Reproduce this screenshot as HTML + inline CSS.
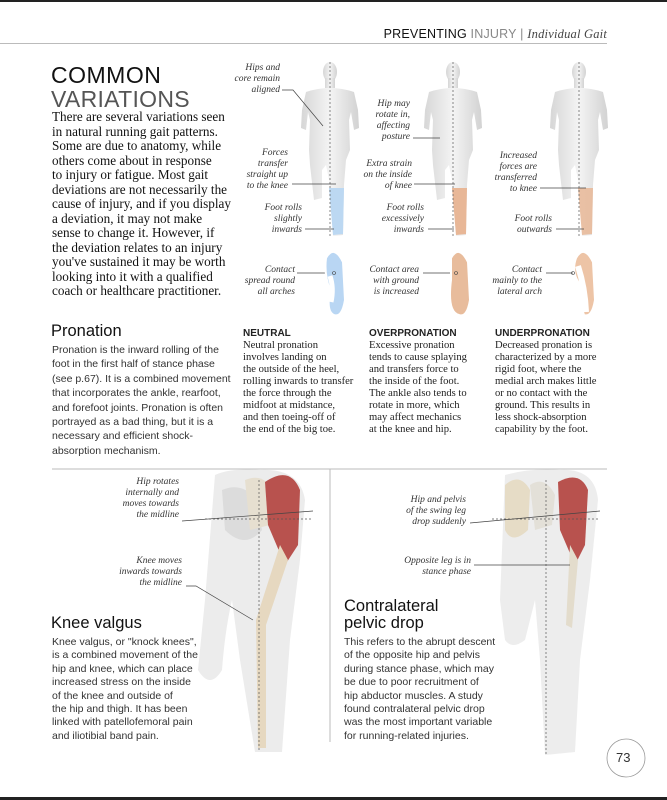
<!DOCTYPE html>
<html><head><meta charset="utf-8"><style>
*{margin:0;padding:0}
body{width:667px;height:800px;position:relative;background:#fff;overflow:hidden;font-family:"Liberation Sans",sans-serif;color:#222}
.a{position:absolute;white-space:nowrap}
.serif{font-family:"Liberation Serif",serif}
.lab{font-family:"Liberation Serif",serif;font-style:italic;font-size:9.5px;line-height:11px;text-align:right;color:#333}
.col{font-family:"Liberation Serif",serif;font-size:10.6px;line-height:12px;color:#222}
.col b{font-family:"Liberation Sans",sans-serif;font-size:10px;display:block}
.sb{font-size:10.5px;line-height:13.4px;color:#333}
</style></head><body>
<div class="a" style="left:0;top:0;width:667px;height:2px;background:#222"></div>
<div class="a" style="left:0;top:797px;width:667px;height:3px;background:#222"></div>
<div class="a" style="left:0;top:43px;width:607px;height:1px;background:#bbb"></div>
<div class="a" style="right:60px;top:27px;font-size:12.5px;letter-spacing:.2px;color:#111">PREVENTING <span style="color:#888">INJURY</span> <span style="color:#888">|</span> <span class="serif" style="font-style:italic;color:#444">Individual Gait</span></div>
<div class="a" style="left:51px;top:62px;font-size:23px;letter-spacing:.5px;color:#111">COMMON</div>
<div class="a" style="left:51px;top:86px;font-size:23px;font-weight:300;letter-spacing:.3px;color:#555">VARIATIONS</div>
<div class="a serif" style="left:52px;top:110px;font-size:13.2px;line-height:14.5px;color:#111">There are several variations seen<br>in natural running gait patterns.<br>Some are due to anatomy, while<br>others come about in response<br>to injury or fatigue. Most gait<br>deviations are not necessarily the<br>cause of injury, and if you display<br>a deviation, it may not make<br>sense to change it. However, if<br>the deviation relates to an injury<br>you've sustained it may be worth<br>looking into it with a qualified<br>coach or healthcare practitioner.</div>

<svg class="a" style="left:0;top:0" width="667" height="800">
<defs>
<linearGradient id="g" x1="0" x2="1"><stop offset="0" stop-color="#d6d6d6"/><stop offset=".5" stop-color="#f4f4f4"/><stop offset="1" stop-color="#d2d2d2"/></linearGradient>
<g id="body">
<ellipse cx="0" cy="72" rx="7" ry="10" fill="url(#g)"/>
<rect x="-5" y="78" width="10" height="10" fill="url(#g)"/>
<path d="M-24 92 Q0 84 24 92 L28 110 L29 128 L24 130 L21 112 L19 120 L20 150 L16 160 L14 185 L13 235 L3 236 L0 185 L-4 165 L-8 170 L-8 198 L-16 200 L-20 165 L-21 150 L-20 120 L-22 112 L-24 130 L-29 128 L-28 110 Z" fill="url(#g)"/>
</g>
</defs>
<use href="#body" x="330"/>
<use href="#body" x="453"/>
<use href="#body" x="579"/>
<path d="M329 188 L344 188 L343 234 L333 235 Z" fill="#bcd8f2"/>
<path d="M452 188 L467 188 L466 234 L456 235 Z" fill="#e8b797"/>
<path d="M578 188 L593 188 L592 234 L582 235 Z" fill="#e8b797" opacity=".85"/>
<g stroke="#555" stroke-width=".7" stroke-dasharray="2,2"><line x1="330" y1="62" x2="330" y2="236"/><line x1="453" y1="62" x2="453" y2="236"/><line x1="579" y1="62" x2="579" y2="236"/></g>
<g fill="none" stroke="#444" stroke-width=".7">
<polyline points="282,90 293,90 323,126"/><polyline points="292,184 336,184"/><polyline points="305,229 334,229"/><polyline points="297,273 334,273"/>
<polyline points="413,138 440,138"/><polyline points="414,184 455,184"/><polyline points="428,229 454,229"/><polyline points="423,273 456,273"/>
<polyline points="540,188 586,188"/><polyline points="556,229 584,229"/><polyline points="546,273 573,273"/>
</g>
<path d="M326 258 Q334 244 343 262 L345 300 Q342 318 334 315 Q326 312 330 290 Q324 275 326 258Z" fill="#b9d6f3" stroke="#fff" stroke-width="2"/>
<path d="M451 258 Q459 244 468 262 L470 300 Q467 318 459 315 Q447 312 451 280 Z" fill="#e8bc9c" stroke="#fff" stroke-width="2"/>
<path d="M576 258 Q584 244 593 262 L595 300 Q592 318 584 315 Q580 305 583 288 Q570 275 576 258Z" fill="#edc4a6" stroke="#fff" stroke-width="2"/>
<path d="M330 276 Q334 288 331 302" stroke="#fff" stroke-width="5" fill="none"/>
<path d="M578 266 Q585 288 586 312" stroke="#fff" stroke-width="6" fill="none"/>
<circle cx="334" cy="273" r="1.5" fill="none" stroke="#444" stroke-width=".6"/>
<circle cx="456" cy="273" r="1.5" fill="none" stroke="#444" stroke-width=".6"/>
<circle cx="573" cy="273" r="1.5" fill="none" stroke="#444" stroke-width=".6"/>
<line x1="52" y1="469" x2="607" y2="469" stroke="#bbb"/>
<line x1="330" y1="469" x2="330" y2="742" stroke="#bbb"/>
<path d="M215 475 Q230 468 260 470 Q300 468 305 500 L300 560 L290 640 L282 752 L255 752 L240 660 L232 600 Q225 630 222 670 Q210 690 198 670 L205 600 Z" fill="#ececec"/>
<path d="M222 490 Q240 482 255 497 L262 530 Q245 550 225 530 Z" fill="#dcdcdc"/>
<path d="M245 480 Q265 472 272 492 L270 525 L250 530 Z" fill="#e6dfd0"/>
<path d="M265 482 Q290 465 300 490 L298 545 L285 565 L268 525 Z" fill="#b8524e"/>
<path d="M280 545 L256 620 L258 748 L266 748 L266 625 L288 560 Z" fill="#e6d8c0"/>
<line x1="259" y1="480" x2="259" y2="752" stroke="#555" stroke-width=".7" stroke-dasharray="2,2"/>
<line x1="205" y1="519" x2="313" y2="519" stroke="#555" stroke-width=".7" stroke-dasharray="2,2"/>
<line x1="182" y1="521" x2="313" y2="511" stroke="#444" stroke-width=".7"/>
<polyline points="186,586 196,586 253,620" fill="none" stroke="#444" stroke-width=".7"/>
<path d="M505 475 Q530 468 560 470 Q595 468 598 500 L590 580 L580 660 L575 752 L545 755 L540 660 L535 600 L525 640 Q512 650 505 640 L500 600 Z" fill="#ededed"/>
<path d="M505 485 Q520 472 530 490 L528 530 Q512 545 505 530 Z" fill="#e6dcc6"/>
<path d="M530 485 Q545 475 555 495 L552 525 L535 530 Z" fill="#e3e0d8"/>
<path d="M558 482 Q580 470 588 490 L585 545 L575 565 L560 530 Z" fill="#b8524e"/>
<path d="M570 545 L566 625 L572 628 L578 560 Z" fill="#e3dccc"/>
<line x1="546" y1="480" x2="546" y2="755" stroke="#555" stroke-width=".7" stroke-dasharray="2,2"/>
<line x1="492" y1="519" x2="600" y2="519" stroke="#555" stroke-width=".7" stroke-dasharray="2,2"/>
<line x1="470" y1="523" x2="600" y2="511" stroke="#444" stroke-width=".7"/>
<polyline points="474,565 570,565" fill="none" stroke="#444" stroke-width=".7"/>
<circle cx="626" cy="758" r="19" fill="#fff" stroke="#999" stroke-width=".8"/>
</svg>

<div class="a lab" style="right:387px;top:63px">Hips and<br>core remain<br>aligned</div>
<div class="a lab" style="right:379px;top:148px">Forces<br>transfer<br>straight up<br>to the knee</div>
<div class="a lab" style="right:365px;top:203px">Foot rolls<br>slightly<br>inwards</div>
<div class="a lab" style="right:372px;top:265px">Contact<br>spread round<br>all arches</div>
<div class="a lab" style="right:257px;top:99px">Hip may<br>rotate in,<br>affecting<br>posture</div>
<div class="a lab" style="right:255px;top:159px">Extra strain<br>on the inside<br>of knee</div>
<div class="a lab" style="right:243px;top:203px">Foot rolls<br>excessively<br>inwards</div>
<div class="a lab" style="right:248px;top:265px">Contact area<br>with ground<br>is increased</div>
<div class="a lab" style="right:130px;top:151px">Increased<br>forces are<br>transferred<br>to knee</div>
<div class="a lab" style="right:115px;top:214px">Foot rolls<br>outwards</div>
<div class="a lab" style="right:125px;top:265px">Contact<br>mainly to the<br>lateral arch</div>

<div class="a" style="left:51px;top:322px;font-size:16.5px;color:#111">Pronation</div>
<div class="a sb" style="left:52px;top:343px;line-height:14.4px">Pronation is the inward rolling of the<br>foot in the first half of stance phase<br>(see p.67). It is a combined movement<br>that incorporates the ankle, rearfoot,<br>and forefoot joints. Pronation is often<br>portrayed as a bad thing, but it is a<br>necessary and efficient shock-<br>absorption mechanism.</div>
<div class="a col" style="left:243px;top:328px"><b>NEUTRAL</b>Neutral pronation<br>involves landing on<br>the outside of the heel,<br>rolling inwards to transfer<br>the force through the<br>midfoot at midstance,<br>and then toeing-off of<br>the end of the big toe.</div>
<div class="a col" style="left:369px;top:328px"><b>OVERPRONATION</b>Excessive pronation<br>tends to cause splaying<br>and transfers force to<br>the inside of the foot.<br>The ankle also tends to<br>rotate in more, which<br>may affect mechanics<br>at the knee and hip.</div>
<div class="a col" style="left:495px;top:328px"><b>UNDERPRONATION</b>Decreased pronation is<br>characterized by a more<br>rigid foot, where the<br>medial arch makes little<br>or no contact with the<br>ground. This results in<br>less shock-absorption<br>capability by the foot.</div>

<div class="a lab" style="right:488px;top:477px">Hip rotates<br>internally and<br>moves towards<br>the midline</div>
<div class="a lab" style="right:485px;top:556px">Knee moves<br>inwards towards<br>the midline</div>
<div class="a lab" style="right:201px;top:495px">Hip and pelvis<br>of the swing leg<br>drop suddenly</div>
<div class="a lab" style="right:196px;top:556px">Opposite leg is in<br>stance phase</div>

<div class="a" style="left:51px;top:614px;font-size:16.5px;color:#111">Knee valgus</div>
<div class="a sb" style="left:52px;top:636px">Knee valgus, or "knock knees",<br>is a combined movement of the<br>hip and knee, which can place<br>increased stress on the inside<br>of the knee and outside of<br>the hip and thigh. It has been<br>linked with patellofemoral pain<br>and iliotibial band pain.</div>
<div class="a" style="left:344px;top:598px;font-size:16.5px;line-height:17px;color:#111">Contralateral<br>pelvic drop</div>
<div class="a sb" style="left:344px;top:636px">This refers to the abrupt descent<br>of the opposite hip and pelvis<br>during stance phase, which may<br>be due to poor recruitment of<br>hip abductor muscles. A study<br>found contralateral pelvic drop<br>was the most important variable<br>for running-related injuries.</div>
<div class="a" style="left:616px;top:750px;font-size:13px;color:#333">73</div>
</body></html>
